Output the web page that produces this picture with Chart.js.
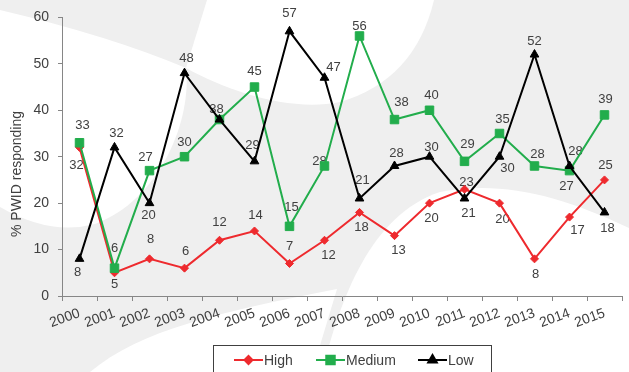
<!DOCTYPE html>
<html>
<head>
<meta charset="utf-8">
<script src="https://cdn.jsdelivr.net/npm/chart.js@4.4.0/dist/chart.umd.min.js"></script>
<style>
  body { margin: 0; background: #fff; }
  #wrap { width: 629px; height: 372px; position: relative; }
</style>
</head>
<body>
<div id="wrap"><canvas id="chart"></canvas></div>
<script>
const years = ['2000', '2001', '2002', '2003', '2004', '2005', '2006', '2007',
  '2008', '2009', '2010', '2011', '2012', '2013', '2014', '2015'];
const high = [32, 5, 8, 6, 12, 14, 7, 12, 18, 13, 20, 23, 20, 8, 17, 25];
const medium = [33, 6, 27, 30, 38, 45, 15, 28, 56, 38, 40, 29, 35, 28, 27, 39];
const low = [8, 32, 20, 48, 38, 29, 57, 47, 21, 28, 30, 21, 30, 52, 28, 18];
const yMax = 60;
const yStep = 10;

// where each value label sits relative to its point (dx, dy); null = not drawn
const highLabelPos = [[-3, 18], [0, 12], [1, -19], [1, -17], [0, -18], [1, -16], [0, -17], [4, 15],
  [2, 15], [4, 15], [2, 15], [2, -7], [3, 16], [1, 16], [8, 13], [1, -14]];
const mediumLabelPos = [[3, -17], [0, -20], [-4, -13], [0, -14], [-3, -10], [0, -16], [2, -19], [-5, -5],
  [0, -10], [7, -17], [2, -15], [3, -17], [3, -14], [3, -12], [-3, 16], [1, -15]];
const lowLabelPos = [[-2, 14], [2, -14], [-1, 12], [2, -15], null, [-2, -16], [0, -18], [9, -10],
  [3, -18], [2, -13], [2, -9], [4, 15], [8, 12], [0, -13], [6, -15], [3, 16]];

const RED = '#ee2a2e';
const GREEN = '#22ad4c';
const BLACK = '#000000';
const TEXT = '#404040';
const AXIS = '#868686';
const FONT = '"Liberation Sans", Arial, sans-serif';

// gray backdrop with the white swooshes
const backdrop = {
  id: 'backdrop',
  beforeDraw(chart) {
    const ctx = chart.ctx;
    ctx.save();
    ctx.fillStyle = '#efefef';
    ctx.fillRect(0, 0, chart.width, chart.height);
    ctx.fillStyle = '#ffffff';
    // left crescent
    ctx.beginPath();
    ctx.moveTo(0, 10);
    ctx.quadraticCurveTo(110, 36, 186, 68);
    ctx.bezierCurveTo(192, 120, 160, 200, 95, 224);
    ctx.quadraticCurveTo(50, 236, 0, 207);
    ctx.closePath();
    ctx.fill();
    // top blob
    ctx.beginPath();
    ctx.moveTo(207, 0);
    ctx.lineTo(186, 68);
    ctx.bezierCurveTo(230, 92, 290, 112, 340, 102);
    ctx.quadraticCurveTo(415, 80, 434, 0);
    ctx.closePath();
    ctx.fill();
    // bottom right
    ctx.beginPath();
    ctx.moveTo(322, 372);
    ctx.bezierCurveTo(340, 300, 370, 215, 440, 192);
    ctx.bezierCurveTo(500, 180, 560, 195, 629, 228);
    ctx.lineTo(629, 372);
    ctx.closePath();
    ctx.fill();
    // bottom left
    ctx.beginPath();
    ctx.moveTo(90, 372);
    ctx.bezierCurveTo(140, 330, 220, 312, 337, 289);
    ctx.lineTo(312, 372);
    ctx.closePath();
    ctx.fill();
    ctx.restore();
  }
};

const valueLabels = {
  id: 'valueLabels',
  beforeDatasetsDraw(chart) {
    const ctx = chart.ctx;
    const positions = [highLabelPos, mediumLabelPos, lowLabelPos];
    ctx.save();
    ctx.font = '13px ' + FONT;
    ctx.fillStyle = TEXT;
    ctx.textAlign = 'center';
    ctx.textBaseline = 'middle';
    chart.data.datasets.forEach((ds, i) => {
      const meta = chart.getDatasetMeta(i);
      meta.data.forEach((pt, j) => {
        const off = positions[i][j];
        if (!off) return;
        ctx.fillText(String(ds.data[j]), pt.x + off[0], pt.y + off[1]);
      });
    });
    ctx.restore();
  }
};

const legendAndTitle = {
  id: 'legendAndTitle',
  afterDraw(chart) {
    const ctx = chart.ctx;
    ctx.save();
    // y axis title
    ctx.font = '14px ' + FONT;
    ctx.fillStyle = TEXT;
    ctx.translate(17, 174);
    ctx.rotate(-Math.PI / 2);
    ctx.textAlign = 'center';
    ctx.textBaseline = 'middle';
    ctx.fillText('% PWID responding', 0, 0);
    ctx.restore();

    ctx.save();
    ctx.fillStyle = '#ffffff';
    ctx.fillRect(213.5, 345.5, 278, 40);
    ctx.strokeStyle = '#404040';
    ctx.lineWidth = 1;
    ctx.strokeRect(213.5, 345.5, 278, 40);
    const items = [
      {label: 'High', color: RED, style: 'rectRot', r: 4, x: 234},
      {label: 'Medium', color: GREEN, style: 'rect', r: 6, x: 316},
      {label: 'Low', color: BLACK, style: 'triangle', r: 5, x: 418},
    ];
    ctx.font = '14px ' + FONT;
    ctx.textBaseline = 'middle';
    ctx.textAlign = 'left';
    items.forEach((it) => {
      const y = 360;
      ctx.strokeStyle = it.color;
      ctx.lineWidth = 2;
      ctx.beginPath();
      ctx.moveTo(it.x, y);
      ctx.lineTo(it.x + 29, y);
      ctx.stroke();
      ctx.fillStyle = it.color;
      Chart.helpers.drawPoint(ctx, {pointStyle: it.style, radius: it.r, borderWidth: 1}, it.x + 14.5, y);
      ctx.fillStyle = TEXT;
      ctx.fillText(it.label, it.x + 30, y + 1);
    });
    ctx.restore();
  }
};

function series(label, data, color, style, radius, order) {
  return {
    label: label,
    data: data,
    borderColor: color,
    backgroundColor: color,
    borderWidth: 2,
    pointStyle: style,
    pointRadius: radius,
    pointHoverRadius: radius,
    pointBorderWidth: 1,
    pointBorderColor: color,
    pointBackgroundColor: color,
    tension: 0,
    order: order,
  };
}

const ctx = document.getElementById('chart');

new Chart(ctx, {
  type: 'line',
  data: {
    labels: years,
    datasets: [
      series('High', high, RED, 'rectRot', 4, 3),
      series('Medium', medium, GREEN, 'rect', 6, 2),
      series('Low', low, BLACK, 'triangle', 5, 1),
    ],
  },
  options: {
    responsive: true,
    maintainAspectRatio: false,
    animation: false,
    layout: {padding: {top: 16, right: 0, left: 0, bottom: 0}},
    plugins: {
      legend: {display: false},
      tooltip: {enabled: false},
    },
    scales: {
      x: {
        offset: true,
        grid: {offset: true, drawOnChartArea: false, drawTicks: true, tickLength: 5, color: AXIS},
        border: {color: AXIS, width: 1},
        ticks: {
          autoSkip: false,
          minRotation: 20,
          maxRotation: 20,
          padding: 4,
          color: TEXT,
          font: {family: FONT, size: 14},
        },
        afterFit(scale) { scale.height = 76; },
      },
      y: {
        min: 0,
        max: yMax,
        grid: {drawOnChartArea: false, drawTicks: true, tickLength: 4, color: AXIS},
        border: {color: AXIS, width: 1},
        ticks: {
          stepSize: yStep,
          padding: 9,
          color: TEXT,
          font: {family: FONT, size: 14},
        },
        afterFit(scale) { scale.width = 62; },
      },
    },
  },
  plugins: [backdrop, valueLabels, legendAndTitle],
});
</script>
</body>
</html>
